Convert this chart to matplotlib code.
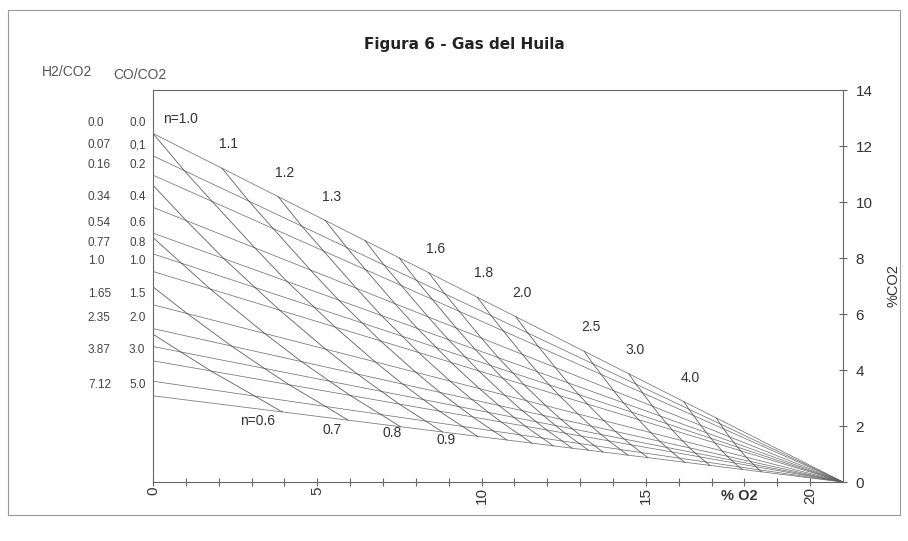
import numpy as np
import matplotlib.pyplot as plt
from matplotlib.patches import Rectangle

# Rectas de relacion CO/CO2 constante: % CO2 donde cortan el eje O2 = 0
co_co2 = [0.0, 0.1, 0.2, 0.4, 0.6, 0.8, 1.0, 1.5, 2.0, 2.5, 3.0, 4.0, 5.0]
co2_eje = [12.45, 11.65, 10.96, 9.81, 8.89, 8.15, 7.52, 6.33, 5.48, 4.84, 4.33, 3.60, 3.08]

# Columnas de rotulos a la izquierda (rectas etiquetadas)
rotulo_co = ['0.0', '0,1', '0.2', '0.4', '0.6', '0.8', '1.0', '1.5', '2.0', '3.0', '5.0']
rotulo_h2 = ['0.0', '0.07', '0.16', '0.34', '0.54', '0.77', '1.0', '1.65', '2.35', '3.87', '7.12']
co_rotulado = [0.0, 0.1, 0.2, 0.4, 0.6, 0.8, 1.0, 1.5, 2.0, 3.0, 5.0]

# Curvas de exceso de aire n
n_valores = [0.6, 0.7, 0.8, 0.9, 1.0, 1.1, 1.2, 1.3, 1.4, 1.5, 1.6, 1.8, 2.0, 2.5, 3.0, 4.0, 5.0]

# % CO2 donde las curvas n < 1 salen del eje (O2 = 0)
co2_inicio = [5.28, 6.97, 8.73, 10.60]

# % O2 de cada curva n al cruzar cada recta CO/CO2 (None = no la cruza)
o2_por_n = [
    [None] * 9 + [0.85, 1.76, 3.10, 3.93],
    [None] * 7 + [1.04, 2.39, 3.39, 4.14, 5.25, 5.94],
    [None] * 5 + [0.87, 1.74, 3.40, 4.52, 5.37, 6.00, 6.94, 7.53],
    [None] * 3 + [1.01, 2.16, 3.11, 3.85, 5.25, 6.22, 6.95, 7.49, 8.30, 8.81],
    [0.00, 0.95, 1.80, 3.10, 4.08, 4.90, 5.54, 6.76, 7.60, 8.23, 8.71, 9.42, 9.88],
    [2.10, 2.92, 3.66, 4.79, 5.65, 6.37, 6.92, 8.00, 8.74, 9.31, 9.73, 10.36, 10.77],
    [3.81, 4.53, 5.19, 6.19, 6.95, 7.59, 8.08, 9.04, 9.71, 10.21, 10.59, 11.16, 11.53],
    [5.24, 5.89, 6.47, 7.36, 8.05, 8.62, 9.07, 9.93, 10.53, 10.99, 11.33, 11.85, 12.18],
    [6.45, 7.03, 7.56, 8.37, 8.99, 9.51, 9.91, 10.70, 11.24, 11.66, 11.98, 12.45, 12.75],
    [7.49, 8.02, 8.50, 9.23, 9.80, 10.27, 10.64, 11.36, 11.87, 12.25, 12.54, 12.97, 13.25],
    [8.39, 8.88, 9.32, 9.99, 10.51, 10.95, 11.29, 11.95, 12.41, 12.76, 13.03, 13.44, 13.69],
    [9.87, 10.29, 10.66, 11.24, 11.69, 12.06, 12.36, 12.93, 13.33, 13.64, 13.87, 14.22, 14.45],
    [11.04, 11.41, 11.73, 12.24, 12.63, 12.96, 13.22, 13.72, 14.07, 14.34, 14.55, 14.86, 15.06],
    [13.12, 13.39, 13.64, 14.02, 14.32, 14.57, 14.77, 15.15, 15.42, 15.63, 15.79, 16.02, 16.18],
    [14.48, 14.70, 14.90, 15.20, 15.44, 15.64, 15.80, 16.11, 16.33, 16.50, 16.63, 16.82, 16.95],
    [16.15, 16.31, 16.45, 16.67, 16.84, 16.98, 17.10, 17.32, 17.48, 17.60, 17.69, 17.83, 17.93],
    [17.14, 17.26, 17.37, 17.54, 17.68, 17.79, 17.88, 18.05, 18.18, 18.27, 18.34, 18.45, 18.52],
]

# Curvas con rotulo arriba y abajo
n_rotulo_sup = [1.1, 1.2, 1.3, 1.6, 1.8, 2.0, 2.5, 3.0, 4.0]
n_rotulo_inf = ['n=0.6', '0.7', '0.8', '0.9']
pos_rotulo_inf = [(3.17, 2.18), (5.45, 1.86), (7.27, 1.75), (8.92, 1.50)]

O2_AIRE = 21.0
color_co = '#5e5e5e'
color_n = '#444444'
color_texto = '#333333'
fuente = 'Liberation Sans'

fig = plt.figure(figsize=(9.08, 5.41), dpi=100)
ax = fig.add_axes([0.1685, 0.109, 0.76, 0.7246])

# Rectas CO/CO2: todas terminan en el aire puro (21 % O2, 0 % CO2)
for c in co2_eje:
    ax.plot([0, O2_AIRE], [c, 0], color=color_co, lw=0.55, alpha=0.85)

# Curvas de n: pasan por el cruce con cada recta CO/CO2
puntos_sup = {}
for i, n in enumerate(n_valores):
    xs, ys = [], []
    if i < len(co2_inicio):
        xs.append(0.0)
        ys.append(co2_inicio[i])
    for c, x in zip(co2_eje, o2_por_n[i]):
        if x is None:
            continue
        xs.append(x)
        ys.append(np.interp(x, [0, O2_AIRE], [c, 0]))
    ax.plot(xs, ys, color=color_n, lw=0.6, alpha=0.85)
    puntos_sup[n] = (xs[0], ys[0])

# Rotulos de las curvas n
x0, y0 = puntos_sup[1.0]
ax.text(x0 + 0.3, y0 + 0.5, 'n=1.0', ha='left', va='center', fontsize=10,
        color=color_texto, family=fuente)
for n in n_rotulo_sup:
    x, y = puntos_sup[n]
    ax.text(x + 0.2, y + 0.85, f'{n:.1f}', ha='center', va='center', fontsize=10,
            color=color_texto, family=fuente)
for txt, (x, y) in zip(n_rotulo_inf, pos_rotulo_inf):
    ax.text(x, y, txt, ha='center', va='center', fontsize=10,
            color=color_texto, family=fuente)

# Columnas H2/CO2 y CO/CO2 a la izquierda del grafico
for co, t_h2, t_co in zip(co_rotulado, rotulo_h2, rotulo_co):
    y = co2_eje[co_co2.index(co)] + 0.37
    ax.text(-1.98, y, t_h2, ha='left', va='center', fontsize=8.5,
            color='#444444', family=fuente, clip_on=False)
    ax.text(-0.73, y, t_co, ha='left', va='center', fontsize=8.5,
            color='#444444', family=fuente, clip_on=False)
ax.text(-2.6, 14.64, 'H2/CO2', ha='center', va='center', fontsize=10,
        color='#555555', family=fuente, clip_on=False)
ax.text(-0.4, 14.53, 'CO/CO2', ha='center', va='center', fontsize=10,
        color='#555555', family=fuente, clip_on=False)

# Ejes
ax.set_xlim(0, 21)
ax.set_ylim(0, 14)
ax.set_xticks(range(0, 21))
ax.set_xticklabels([str(v) if v % 5 == 0 else '' for v in range(0, 21)],
                   rotation=90, family=fuente, fontsize=11, color=color_texto)
ax.yaxis.tick_right()
ax.yaxis.set_label_position('right')
ax.set_yticks(range(0, 15, 2))
ax.set_yticklabels([str(v) for v in range(0, 15, 2)], family=fuente,
                   fontsize=11, color=color_texto)
ax.tick_params(axis='both', direction='inout', length=6, width=0.8, color='#666666')
ax.tick_params(axis='x', pad=0.5)
ax.tick_params(axis='y', pad=6)
for lado in ['left', 'right', 'top', 'bottom']:
    ax.spines[lado].set_color('#666666')
    ax.spines[lado].set_linewidth(0.8)

ax.set_ylabel('%CO2', family=fuente, fontsize=10.5, color=color_texto, labelpad=10)
ax.text(17.85, -0.25, '% O2', ha='center', va='top', fontsize=10.5, fontweight='bold',
        color=color_texto, family=fuente, clip_on=False)

fig.text(0.511, 0.917, 'Figura 6 - Gas del Huila', ha='center', va='center',
         fontsize=11, fontweight='bold', color='#222222', family='DejaVu Sans')

# Marco exterior del grafico
fig.patches.append(Rectangle((8 / 908, 1 - 515 / 541), 892 / 908, 505 / 541,
                             transform=fig.transFigure, fill=False,
                             edgecolor='#999999', lw=0.8))

fig.savefig('out.png', dpi=100)
